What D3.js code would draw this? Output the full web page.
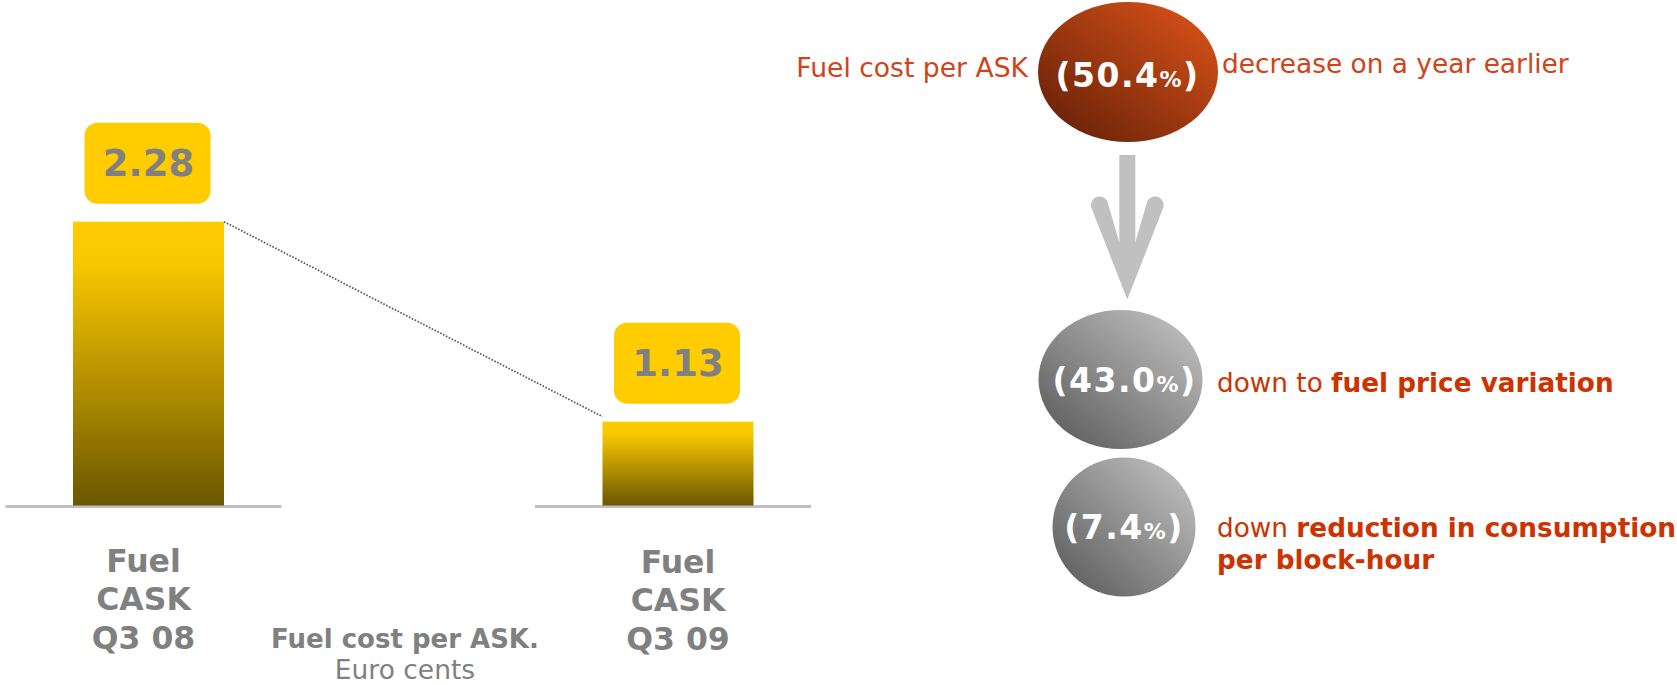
<!DOCTYPE html>
<html>
<head>
<meta charset="utf-8">
<script src="https://cdn.jsdelivr.net/npm/d3@7"></script>
<style>
  html, body { margin: 0; padding: 0; background: #ffffff; }
  svg { display: block; }
  text { font-family: "DejaVu Sans", Verdana, sans-serif; }
</style>
</head>
<body>
<svg id="chart" width="1677" height="685"></svg>
<script>
// ---------------- data ----------------
const categories = ["Fuel CASK Q3 08", "Fuel CASK Q3 09"];
const categoryLines = [["Fuel", "CASK", "Q3 08"], ["Fuel", "CASK", "Q3 09"]];
const values = [2.28, 1.13];
const valueLabels = ["2.28", "1.13"];
const chartTitle = "Fuel cost per ASK.";
const chartUnit = "Euro cents";

const totalChangePct = 50.4;
const totalLeftText = "Fuel cost per ASK";
const totalRightText = "decrease on a year earlier";

const driverPct = [43.0, 7.4];
const driverPlain = ["down to ", "down "];
const driverBold = [["fuel price variation"], ["reduction in consumption", "per block-hour"]];

// ---------------- setup ----------------
const svg = d3.select("#chart");
const defs = svg.append("defs");

const barGrad = defs.append("linearGradient").attr("id", "barGrad")
  .attr("x1", 0).attr("y1", 0).attr("x2", 0).attr("y2", 1);
barGrad.append("stop").attr("offset", "0%").attr("stop-color", "#ffcc00");
barGrad.append("stop").attr("offset", "15%").attr("stop-color", "#f8c700");
barGrad.append("stop").attr("offset", "100%").attr("stop-color", "#6c5600");

const redGrad = defs.append("linearGradient").attr("id", "redGrad")
  .attr("x1", 0).attr("y1", 1).attr("x2", 1).attr("y2", 0);
redGrad.append("stop").attr("offset", "0%").attr("stop-color", "#5e1d06");
redGrad.append("stop").attr("offset", "100%").attr("stop-color", "#e0551a");

const grayGrad = defs.append("linearGradient").attr("id", "grayGrad")
  .attr("x1", 0).attr("y1", 1).attr("x2", 1).attr("y2", 0);
grayGrad.append("stop").attr("offset", "0%").attr("stop-color", "#555555");
grayGrad.append("stop").attr("offset", "100%").attr("stop-color", "#c8c8c8");

// ---------------- bar chart ----------------
const x = d3.scalePoint().domain(categories).range([148.5, 678]);
const barW = 151;
const baseY = 506.5;
const y = d3.scaleLinear().domain([0.642, 2.28]).range([baseY, 221.7]);

const bars = svg.append("g");

// baselines (one per bar)
bars.selectAll("line.base").data(categories).join("line")
  .attr("class", "base")
  .attr("x1", d => x(d) - 143).attr("x2", d => x(d) + 133)
  .attr("y1", baseY).attr("y2", baseY)
  .attr("stroke", "#c0c0c0").attr("stroke-width", 3);

bars.selectAll("rect.bar").data(categories).join("rect")
  .attr("class", "bar")
  .attr("x", d => x(d) - barW / 2)
  .attr("width", barW)
  .attr("y", (d, i) => y(values[i]))
  .attr("height", (d, i) => baseY - 1 - y(values[i]))
  .attr("fill", "url(#barGrad)");

// dotted connector
bars.append("line")
  .attr("x1", x(categories[0]) + barW / 2).attr("y1", y(values[0]))
  .attr("x2", x(categories[1]) - barW / 2).attr("y2", y(values[1]) - 5)
  .attr("stroke", "#555555").attr("stroke-width", 1.7)
  .attr("stroke-dasharray", "1.6,1.6");

// value boxes
const boxW = 126, boxH = 81, boxGap = 18;
bars.selectAll("rect.vbox").data(categories).join("rect")
  .attr("class", "vbox")
  .attr("x", d => x(d) - boxW / 2 - 1)
  .attr("y", (d, i) => y(values[i]) - boxGap - boxH)
  .attr("width", boxW).attr("height", boxH)
  .attr("rx", 13).attr("ry", 13)
  .attr("fill", "#ffcc00");

bars.selectAll("text.vlabel").data(categories).join("text")
  .attr("class", "vlabel")
  .attr("x", d => x(d))
  .attr("y", (d, i) => y(values[i]) - boxGap - boxH + 53)
  .attr("text-anchor", "middle")
  .attr("font-size", 37).attr("font-weight", "bold")
  .attr("fill", "#808080")
  .text((d, i) => valueLabels[i]);

// category labels
categories.forEach((c, i) => {
  const t = svg.append("text")
    .attr("text-anchor", "middle")
    .attr("font-size", 31.5).attr("font-weight", "bold")
    .attr("fill", "#808080");
  categoryLines[i].forEach((ln, j) => {
    t.append("tspan").attr("x", x(c) - (i === 0 ? 5 : 0))
      .attr("y", 572 + i * 1 + j * 38.3).text(ln);
  });
});

// title / unit
svg.append("text").attr("x", 405).attr("y", 648.3)
  .attr("text-anchor", "middle").attr("font-size", 26).attr("font-weight", "bold")
  .attr("fill", "#808080").text(chartTitle);
svg.append("text").attr("x", 405).attr("y", 679)
  .attr("text-anchor", "middle").attr("font-size", 26.5)
  .attr("fill", "#808080").text(chartUnit);

// ---------------- right-hand breakdown ----------------
const fmtPct = v => v.toFixed(1);

function pctText(g, cx, cy, v) {
  const t = g.append("text")
    .attr("x", cx).attr("y", cy)
    .attr("text-anchor", "middle")
    .attr("font-size", 33).attr("font-weight", "bold")
    .attr("letter-spacing", 1.5)
    .attr("fill", "#ffffff");
  t.append("tspan").text("(" + fmtPct(v));
  t.append("tspan").attr("font-size", 22).text("%");
  t.append("tspan").text(")");
}

const right = svg.append("g");

// top ellipse
right.append("ellipse").attr("cx", 1128).attr("cy", 72).attr("rx", 90).attr("ry", 70)
  .attr("fill", "url(#redGrad)");
pctText(right, 1127.5, 87, totalChangePct);

right.append("text").attr("x", 1028).attr("y", 77).attr("text-anchor", "end")
  .attr("font-size", 26.6).attr("fill", "#d0441a").text(totalLeftText);
right.append("text").attr("x", 1222).attr("y", 73)
  .attr("font-size", 26.4).attr("fill", "#d0441a").text(totalRightText);

// arrow
const arrowPath = "M1119.3,155 L1135.3,155 L1135.3,242.5 L1146.9,202.6 " +
  "A8.5,8.5 0 0 1 1163.3,207.4 L1127.3,299.5 L1091.3,207.4 " +
  "A8.5,8.5 0 0 1 1107.7,202.6 L1119.3,242.5 Z";
right.append("path").attr("d", arrowPath).attr("fill", "#c0c0c0");

// driver ellipses
const driverEll = [
  { cx: 1120.5, cy: 379.5, rx: 82, ry: 69.5, tx: 1124.5 },
  { cx: 1124, cy: 527, rx: 71.5, ry: 69.5, tx: 1124 }
];
right.selectAll("ellipse.drv").data(driverPct).join("ellipse")
  .attr("class", "drv")
  .attr("cx", (d, i) => driverEll[i].cx).attr("cy", (d, i) => driverEll[i].cy)
  .attr("rx", (d, i) => driverEll[i].rx).attr("ry", (d, i) => driverEll[i].ry)
  .attr("fill", "url(#grayGrad)");

driverPct.forEach((v, i) => {
  pctText(right, driverEll[i].tx, driverEll[i].cy + 12, v);
});

const driverTextY = [392.3, 536.7];
driverPct.forEach((v, i) => {
  const t = right.append("text")
    .attr("x", 1217).attr("y", driverTextY[i])
    .attr("font-size", 26.3).attr("fill", "#cc3300");
  t.append("tspan").text(driverPlain[i]);
  t.append("tspan").attr("font-weight", "bold").text(driverBold[i][0]);
  for (let k = 1; k < driverBold[i].length; k++) {
    t.append("tspan").attr("x", 1217).attr("dy", 32.6)
      .attr("font-weight", "bold").text(driverBold[i][k]);
  }
});
</script>
</body>
</html>
